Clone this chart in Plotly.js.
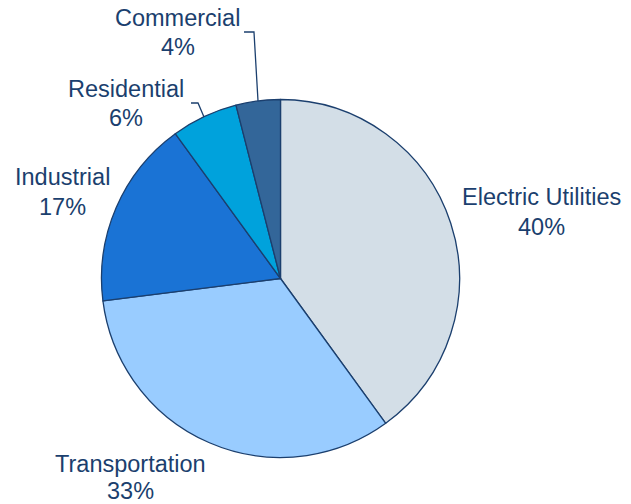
<!DOCTYPE html>
<html>
<head>
<script src="https://cdn.plot.ly/plotly-3.0.1.min.js"></script>
<style>html,body{margin:0;padding:0;background:#fff;}#chart{width:631px;height:504px;}</style>
</head>
<body>
<div id="chart"></div>
<script>
const categories = ["Electric Utilities", "Transportation", "Industrial", "Residential", "Commercial"];
const values = [40, 33, 17, 6, 4];
const colors = ["#d3dee7", "#99ccff", "#1a73d5", "#00a2dc", "#336699"];

const W = 631, H = 504;
const px = x => x / W;
const py = y => 1 - y / H;

// label placement (pixels) per category: [x, y of name line, y of percent line]
const labelPos = [
  [541, 197, 227],
  [130, 464, 491],
  [62, 177, 207],
  [126, 89, 118],
  [178, 18, 47]
];
const textColor = "#1b3f6e";
const fontSpec = {family: "Liberation Sans, Arial, sans-serif", size: 23.5, color: textColor};
const annotations = [];
categories.forEach((c, i) => {
  const [x, y1, y2] = labelPos[i];
  annotations.push({xref: "paper", yref: "paper", x: px(x), y: py(y1), text: c, showarrow: false,
    xanchor: "center", yanchor: "middle", borderpad: 0, font: fontSpec});
  annotations.push({xref: "paper", yref: "paper", x: px(x), y: py(y2), text: values[i] + "%", showarrow: false,
    xanchor: "center", yanchor: "middle", borderpad: 0, font: fontSpec});
});

function pathFrom(pts) {
  return pts.map((p, k) => (k ? "L" : "M") + px(p[0]).toFixed(4) + "," + py(p[1]).toFixed(4)).join(" ");
}
const shapes = [
  {type: "path", xref: "paper", yref: "paper", path: pathFrom([[244, 32], [254, 32], [258, 101]]), line: {color: "#1b3f6e", width: 1.3}},
  {type: "path", xref: "paper", yref: "paper", path: pathFrom([[191, 103], [198, 103], [204, 117]]), line: {color: "#1b3f6e", width: 1.3}}
];

const cx = 280.5, cy = 278.5, r = 179;
const data = [{
  type: "pie",
  labels: categories,
  values: values,
  sort: false,
  direction: "clockwise",
  rotation: 0,
  textinfo: "none",
  hoverinfo: "label+percent",
  marker: {colors: colors, line: {color: "#1b3f6e", width: 1.3}},
  domain: {x: [px(cx - r), px(cx + r)], y: [py(cy + r), py(cy - r)]},
  showlegend: false
}];

const layout = {
  width: W, height: H,
  margin: {l: 0, r: 0, t: 0, b: 0},
  paper_bgcolor: "#ffffff",
  showlegend: false,
  annotations: annotations,
  shapes: shapes
};
Plotly.newPlot("chart", data, layout, {displayModeBar: false, staticPlot: true});
</script>
</body>
</html>
